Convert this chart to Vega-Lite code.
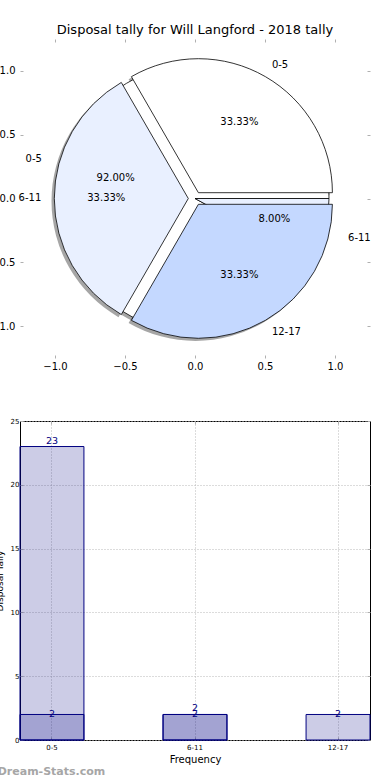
{
  "$schema": "https://vega.github.io/schema/vega-lite/v6.json",
  "autosize": {"type": "pad"},
  "padding": {"left": -10, "top": 23, "right": 0, "bottom": 0},
  "background": "white",
  "config": {
    "font": "DejaVu Sans",
    "view": {"stroke": null},
    "axis": {"labelFont": "DejaVu Sans", "titleFont": "DejaVu Sans", "labelColor": "black", "titleColor": "black", "tickColor": "#b0b0b0", "domain": false, "grid": false, "titleFontWeight": "normal"}
  },
  "datasets": {
    "first": [
      {"range": "0-5", "count": 23, "idx": 0, "pct": 0.92},
      {"range": "6-11", "count": 2, "idx": 1, "pct": 0.08}
    ],
    "second": [
      {"range": "0-5", "count": 2, "idx": 0, "pct": 0.3333},
      {"range": "6-11", "count": 2, "idx": 1, "pct": 0.3333},
      {"range": "12-17", "count": 2, "idx": 2, "pct": 0.3333}
    ]
  },
  "title": {"text": "Dream-Stats.com", "orient": "bottom", "anchor": "start", "font": "DejaVu Sans", "fontSize": 11, "fontWeight": "bold", "color": "#a6a6a6", "offset": 1, "dx": 7},
  "spacing": 45,
  "vconcat": [
    {
      "width": 350,
      "height": 319,
      "title": {"text": "Disposal tally for Will Langford - 2018 tally", "fontSize": 13, "fontWeight": "normal", "offset": 2, "frame": "group"},
      "resolve": {"axis": {"x": "independent", "y": "independent"}},
      "layer": [
        {
          "data": {"values": [{}]},
          "mark": {"type": "point", "opacity": 0},
          "encoding": {
            "x": {"datum": 0, "type": "quantitative", "scale": {"domain": [-1.25, 1.25], "nice": false, "zero": false}, "axis": {"orient": "bottom", "values": [-1, -0.5, 0, 0.5, 1], "format": ".1f", "labelFontSize": 10, "tickSize": -3, "labelPadding": 6, "title": null}},
            "y": {"datum": 0, "type": "quantitative", "scale": {"domain": [-1.25, 1.25], "nice": false, "zero": false}, "axis": {"orient": "left", "values": [-1, -0.5, 0, 0.5, 1], "format": ".1f", "labelFontSize": 10, "tickSize": -3, "labelPadding": 8, "title": null}}
          }
        },
        {
          "data": {"values": [{}]},
          "mark": {"type": "point", "opacity": 0},
          "encoding": {
            "x": {"datum": 0, "type": "quantitative", "axis": {"orient": "top", "values": [-1, -0.5, 0, 0.5, 1], "labels": false, "tickSize": -3, "title": null}},
            "y": {"datum": 0, "type": "quantitative", "axis": {"orient": "right", "values": [-1, -0.5, 0, 0.5, 1], "labels": false, "tickSize": -3, "title": null}}
          }
        },
        {
          "data": {"name": "first"},
          "mark": {"type": "arc", "outerRadius": 134, "fill": "#4d4d4d", "opacity": 0.5, "xOffset": -2.8, "yOffset": 2.6},
          "encoding": {
            "theta": {"field": "count", "type": "quantitative", "stack": "normalize", "scale": {"domain": [0, 1], "range": [1.5708, 7.854]}},
            "order": {"field": "idx", "type": "quantitative", "sort": "descending"}
          }
        },
        {
          "data": {"name": "second"},
          "mark": {"type": "arc", "outerRadius": 134, "fill": "#4d4d4d", "xOffset": 0.6, "yOffset": -3.2},
          "encoding": {
            "theta": {"field": "count", "type": "quantitative", "stack": "normalize", "scale": {"domain": [0, 1], "range": [1.5708, 7.854]}},
            "order": {"field": "idx", "type": "quantitative", "sort": "descending"},
            "opacity": {"condition": {"test": "datum.range === '0-5'", "value": 0.5}, "value": 0}
          }
        },
        {
          "data": {"name": "second"},
          "mark": {"type": "arc", "outerRadius": 134, "fill": "#4d4d4d", "xOffset": -9.5, "yOffset": 2.6},
          "encoding": {
            "theta": {"field": "count", "type": "quantitative", "stack": "normalize", "scale": {"domain": [0, 1], "range": [1.5708, 7.854]}},
            "order": {"field": "idx", "type": "quantitative", "sort": "descending"},
            "opacity": {"condition": {"test": "datum.range === '6-11'", "value": 0.5}, "value": 0}
          }
        },
        {
          "data": {"name": "second"},
          "mark": {"type": "arc", "outerRadius": 134, "fill": "#4d4d4d", "xOffset": 0.6, "yOffset": 8.4},
          "encoding": {
            "theta": {"field": "count", "type": "quantitative", "stack": "normalize", "scale": {"domain": [0, 1], "range": [1.5708, 7.854]}},
            "order": {"field": "idx", "type": "quantitative", "sort": "descending"},
            "opacity": {"condition": {"test": "datum.range === '12-17'", "value": 0.5}, "value": 0}
          }
        },
        {
          "data": {"name": "first"},
          "mark": {"type": "arc", "outerRadius": 134, "stroke": "black", "strokeWidth": 0.8},
          "encoding": {
            "theta": {"field": "count", "type": "quantitative", "stack": "normalize", "scale": {"domain": [0, 1], "range": [1.5708, 7.854]}},
            "order": {"field": "idx", "type": "quantitative", "sort": "descending"},
            "color": {"field": "range", "type": "nominal", "scale": {"domain": ["0-5", "6-11", "12-17"], "range": ["#ffffff", "#e9f0ff", "#c4d8ff"]}, "legend": null}
          }
        },
        {
          "data": {"name": "second"},
          "mark": {"type": "arc", "outerRadius": 134, "stroke": "black", "strokeWidth": 0.8, "xOffset": 3.4, "yOffset": -5.8},
          "encoding": {
            "theta": {"field": "count", "type": "quantitative", "stack": "normalize", "scale": {"domain": [0, 1], "range": [1.5708, 7.854]}},
            "order": {"field": "idx", "type": "quantitative", "sort": "descending"},
            "color": {"field": "range", "type": "nominal", "legend": null},
            "opacity": {"condition": {"test": "datum.range === '0-5'", "value": 1}, "value": 0}
          }
        },
        {
          "data": {"name": "second"},
          "mark": {"type": "arc", "outerRadius": 134, "stroke": "black", "strokeWidth": 0.8, "xOffset": -6.7, "yOffset": 0},
          "encoding": {
            "theta": {"field": "count", "type": "quantitative", "stack": "normalize", "scale": {"domain": [0, 1], "range": [1.5708, 7.854]}},
            "order": {"field": "idx", "type": "quantitative", "sort": "descending"},
            "color": {"field": "range", "type": "nominal", "legend": null},
            "opacity": {"condition": {"test": "datum.range === '6-11'", "value": 1}, "value": 0}
          }
        },
        {
          "data": {"name": "second"},
          "mark": {"type": "arc", "outerRadius": 134, "stroke": "black", "strokeWidth": 0.8, "xOffset": 3.4, "yOffset": 5.8},
          "encoding": {
            "theta": {"field": "count", "type": "quantitative", "stack": "normalize", "scale": {"domain": [0, 1], "range": [1.5708, 7.854]}},
            "order": {"field": "idx", "type": "quantitative", "sort": "descending"},
            "color": {"field": "range", "type": "nominal", "legend": null},
            "opacity": {"condition": {"test": "datum.range === '12-17'", "value": 1}, "value": 0}
          }
        },
        {
          "data": {"name": "first"},
          "mark": {"type": "text", "radius": 82, "fontSize": 10, "color": "black", "align": "center", "baseline": "middle"},
          "encoding": {
            "theta": {"field": "count", "type": "quantitative", "stack": "normalize", "scale": {"domain": [0, 1], "range": [1.5708, 7.854]}},
            "order": {"field": "idx", "type": "quantitative", "sort": "descending"},
            "text": {"field": "pct", "type": "quantitative", "format": ".2%"}
          }
        },
        {
          "data": {"name": "first"},
          "mark": {"type": "text", "radius": 158, "fontSize": 10, "color": "black", "align": "right", "baseline": "middle"},
          "encoding": {
            "theta": {"field": "count", "type": "quantitative", "stack": "normalize", "scale": {"domain": [0, 1], "range": [1.5708, 7.854]}},
            "order": {"field": "idx", "type": "quantitative", "sort": "descending"},
            "text": {"field": "range", "type": "nominal"},
            "opacity": {"condition": {"test": "datum.range === '0-5'", "value": 1}, "value": 0}
          }
        },
        {
          "data": {"name": "first"},
          "mark": {"type": "text", "radius": 158, "fontSize": 10, "color": "black", "align": "left", "baseline": "middle"},
          "encoding": {
            "theta": {"field": "count", "type": "quantitative", "stack": "normalize", "scale": {"domain": [0, 1], "range": [1.5708, 7.854]}},
            "order": {"field": "idx", "type": "quantitative", "sort": "descending"},
            "text": {"field": "range", "type": "nominal"},
            "opacity": {"condition": {"test": "datum.range === '6-11'", "value": 1}, "value": 0}
          }
        },
        {
          "data": {"name": "second"},
          "mark": {"type": "text", "radius": 82, "fontSize": 10, "color": "black", "align": "center", "baseline": "middle", "xOffset": 3.4, "yOffset": -5.8},
          "encoding": {
            "theta": {"field": "count", "type": "quantitative", "stack": "normalize", "scale": {"domain": [0, 1], "range": [1.5708, 7.854]}},
            "order": {"field": "idx", "type": "quantitative", "sort": "descending"},
            "text": {"field": "pct", "type": "quantitative", "format": ".2%"},
            "opacity": {"condition": {"test": "datum.range === '0-5'", "value": 1}, "value": 0}
          }
        },
        {
          "data": {"name": "second"},
          "mark": {"type": "text", "radius": 82, "fontSize": 10, "color": "black", "align": "center", "baseline": "middle", "xOffset": -6.7, "yOffset": 0},
          "encoding": {
            "theta": {"field": "count", "type": "quantitative", "stack": "normalize", "scale": {"domain": [0, 1], "range": [1.5708, 7.854]}},
            "order": {"field": "idx", "type": "quantitative", "sort": "descending"},
            "text": {"field": "pct", "type": "quantitative", "format": ".2%"},
            "opacity": {"condition": {"test": "datum.range === '6-11'", "value": 1}, "value": 0}
          }
        },
        {
          "data": {"name": "second"},
          "mark": {"type": "text", "radius": 82, "fontSize": 10, "color": "black", "align": "center", "baseline": "middle", "xOffset": 3.4, "yOffset": 5.8},
          "encoding": {
            "theta": {"field": "count", "type": "quantitative", "stack": "normalize", "scale": {"domain": [0, 1], "range": [1.5708, 7.854]}},
            "order": {"field": "idx", "type": "quantitative", "sort": "descending"},
            "text": {"field": "pct", "type": "quantitative", "format": ".2%"},
            "opacity": {"condition": {"test": "datum.range === '12-17'", "value": 1}, "value": 0}
          }
        },
        {
          "data": {"name": "second"},
          "mark": {"type": "text", "radius": 147, "fontSize": 10, "color": "black", "align": "left", "baseline": "middle", "xOffset": 3.4, "yOffset": -5.8},
          "encoding": {
            "theta": {"field": "count", "type": "quantitative", "stack": "normalize", "scale": {"domain": [0, 1], "range": [1.5708, 7.854]}},
            "order": {"field": "idx", "type": "quantitative", "sort": "descending"},
            "text": {"field": "range", "type": "nominal"},
            "opacity": {"condition": {"test": "datum.range === '0-5'", "value": 1}, "value": 0}
          }
        },
        {
          "data": {"name": "second"},
          "mark": {"type": "text", "radius": 147, "fontSize": 10, "color": "black", "align": "right", "baseline": "middle", "xOffset": -6.7, "yOffset": 0},
          "encoding": {
            "theta": {"field": "count", "type": "quantitative", "stack": "normalize", "scale": {"domain": [0, 1], "range": [1.5708, 7.854]}},
            "order": {"field": "idx", "type": "quantitative", "sort": "descending"},
            "text": {"field": "range", "type": "nominal"},
            "opacity": {"condition": {"test": "datum.range === '6-11'", "value": 1}, "value": 0}
          }
        },
        {
          "data": {"name": "second"},
          "mark": {"type": "text", "radius": 147, "fontSize": 10, "color": "black", "align": "left", "baseline": "middle", "xOffset": 3.4, "yOffset": 5.8},
          "encoding": {
            "theta": {"field": "count", "type": "quantitative", "stack": "normalize", "scale": {"domain": [0, 1], "range": [1.5708, 7.854]}},
            "order": {"field": "idx", "type": "quantitative", "sort": "descending"},
            "text": {"field": "range", "type": "nominal"},
            "opacity": {"condition": {"test": "datum.range === '12-17'", "value": 1}, "value": 0}
          }
        }
      ]
    },
    {
      "width": 350,
      "height": 319,
      "view": {"stroke": "black", "strokeWidth": 1},
      "resolve": {"axis": {"x": "independent", "y": "independent"}},
      "layer": [
        {
          "data": {"name": "first"},
          "mark": {"type": "bar", "fill": "#000080", "fillOpacity": 0.2, "stroke": "#000080", "strokeWidth": 1},
          "encoding": {
            "x": {"field": "range", "type": "nominal", "sort": ["0-5", "6-11", "12-17"], "scale": {"domain": ["0-5", "6-11", "12-17"], "paddingInner": 0.553, "paddingOuter": 0}, "axis": {"orient": "bottom", "labelAngle": 0, "labelFontSize": 7, "title": "Frequency", "titleFontSize": 10, "titlePadding": 3.5, "grid": true, "gridDash": [1, 2], "gridColor": "#b8b8b8", "bandPosition": 0.5, "tickSize": -3, "labelPadding": 6.5}},
            "y": {"field": "count", "type": "quantitative", "scale": {"domain": [0, 25], "nice": false}, "axis": {"orient": "left", "values": [0, 5, 10, 15, 20, 25], "labelFontSize": 7, "title": "Disposal Tally", "titleFontSize": 9, "titlePadding": 6, "grid": true, "gridDash": [1, 2], "gridColor": "#b8b8b8", "tickSize": -3, "labelPadding": 4}}
          }
        },
        {
          "data": {"name": "second"},
          "mark": {"type": "bar", "fill": "#000080", "fillOpacity": 0.2, "stroke": "#000080", "strokeWidth": 1},
          "encoding": {
            "x": {"field": "range", "type": "nominal", "sort": ["0-5", "6-11", "12-17"], "axis": {"orient": "top", "labels": false, "title": null, "bandPosition": 0.5, "tickSize": -3}},
            "y": {"field": "count", "type": "quantitative", "axis": {"orient": "right", "values": [0, 5, 10, 15, 20, 25], "labels": false, "title": null, "tickSize": -3}}
          }
        },
        {
          "data": {"name": "first"},
          "mark": {"type": "text", "baseline": "bottom", "dy": -1, "fontSize": 9.5, "color": "#000080"},
          "encoding": {
            "x": {"field": "range", "type": "nominal", "sort": ["0-5", "6-11", "12-17"], "axis": null},
            "y": {"field": "count", "type": "quantitative", "axis": null},
            "text": {"field": "count", "type": "quantitative"}
          }
        },
        {
          "data": {"name": "second"},
          "mark": {"type": "text", "baseline": "middle", "fontSize": 9.5, "color": "#000080"},
          "encoding": {
            "x": {"field": "range", "type": "nominal", "sort": ["0-5", "6-11", "12-17"], "axis": null},
            "y": {"field": "count", "type": "quantitative", "axis": null},
            "text": {"field": "count", "type": "quantitative"}
          }
        }
      ]
    }
  ]
}
